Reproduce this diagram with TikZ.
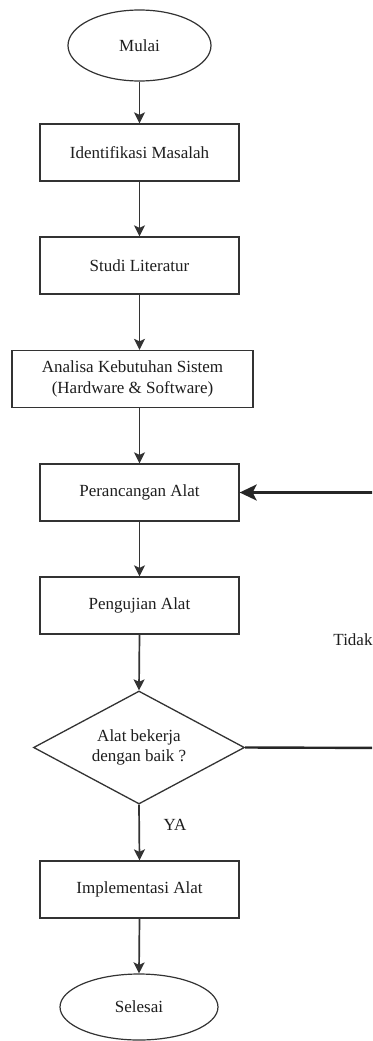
\documentclass[tikz,border=0pt]{standalone}
\usepackage{fontspec}
\setmainfont{Liberation Serif}
\usetikzlibrary{shapes.geometric,arrows.meta}
\definecolor{strokegray}{HTML}{333333}
\definecolor{textgray}{HTML}{1E1E1E}
\tikzset{
  x=1pt, y=-1pt,
  every node/.style={font=\fontsize{17}{21}\selectfont, text=textgray, align=center},
  procbox/.style={draw=strokegray, line width=1.3pt, rectangle, minimum width=199pt, minimum height=57pt, inner sep=0pt},
  terminal/.style={draw=strokegray, line width=1.2pt, ellipse, inner sep=0pt},
  decision/.style={draw=strokegray, line width=1.3pt, diamond, inner sep=0pt, minimum width=211pt, minimum height=113pt, shape aspect=1.87},
  flow/.style={draw=strokegray, line width=1.7pt, -{Stealth[length=11pt,width=11pt,inset=2.5pt]}},
  loopline/.style={draw=black!85, line width=2.4pt},
  loopflow/.style={loopline, -{Stealth[length=17pt,width=16pt,inset=4pt]}},
  tag/.style={font=\fontsize{17}{21}\selectfont, inner sep=0pt}
}
\begin{document}
\begin{tikzpicture}
  \useasboundingbox (0,0) rectangle (372,1041);
  \clip (0,0) rectangle (372,1041);
  \fill[white] (0,0) rectangle (372,1041);

  % process steps
  \node[terminal, minimum width=143pt, minimum height=71pt] (mulai) at (139.5,45.5) {Mulai};
  \node[procbox] (idm) at (139.5,152.5) {Identifikasi Masalah};
  \node[procbox] (studi) at (139.5,265.5) {Studi Literatur};
  \node[procbox, minimum width=241pt] (analisa) at (132.5,379) {Analisa Kebutuhan Sistem\\(Hardware \& Software)};
  \node[procbox] (rancang) at (139.5,492.5) {Perancangan Alat};
  \node[procbox] (uji) at (139.5,605.5) {Pengujian Alat};
  \node[decision] (cek) at (139,747.5) {Alat bekerja\\[-1pt]dengan baik ?};
  \node[procbox] (impl) at (139.5,889.5) {Implementasi Alat};
  \node[terminal, minimum width=158pt, minimum height=66pt] (selesai) at (139,1007) {Selesai};

  % main flow
  \draw[flow] (mulai.south) -- (idm.north);
  \draw[flow] (idm.south) -- (studi.north);
  \draw[flow] (studi.south) -- (analisa.north -| studi.south);
  \draw[flow] (analisa.south -| rancang.north) -- (rancang.north);
  \draw[flow] (rancang.south) -- (uji.north);
  \draw[flow] (uji.south) -- (cek.north);
  \draw[flow] (cek.south) -- (impl.north);
  \draw[flow] (impl.south) -- (selesai.north);

  % return path when the test fails
  \coordinate (back) at (400,748);
  \draw[loopline] (cek.east) -- (back);
  \draw[loopflow] (back) |- (rancang.east);

  % branch labels
  \node[tag] (tidak) at (353,640) {Tidak};
  \node[tag] (ya) at (175,825) {YA};
\end{tikzpicture}
\end{document}
